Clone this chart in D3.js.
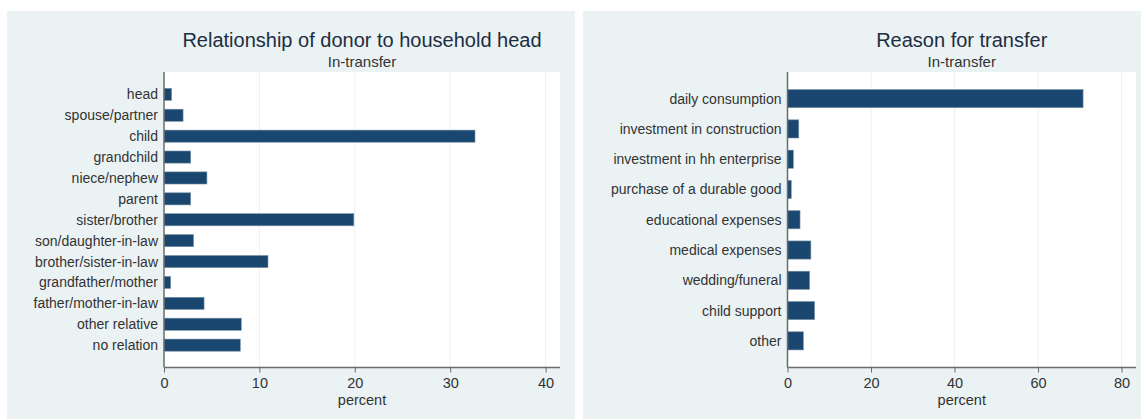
<!DOCTYPE html>
<html>
<head>
<meta charset="utf-8">
<script src="https://cdn.jsdelivr.net/npm/d3@7"></script>
<style>
  html, body { margin: 0; padding: 0; background: #ffffff; }
  svg { display: block; font-family: "Liberation Sans", Arial, sans-serif; }
</style>
</head>
<body>
<svg id="chart" width="1141" height="419"></svg>
<script>
// ---- Data ----
const relCategories = ["head", "spouse/partner", "child", "grandchild", "niece/nephew", "parent",
  "sister/brother", "son/daughter-in-law", "brother/sister-in-law", "grandfather/mother",
  "father/mother-in-law", "other relative", "no relation"];
const relValues = [0.8, 2.0, 32.6, 2.8, 4.5, 2.8, 19.9, 3.1, 10.9, 0.7, 4.2, 8.1, 8.0];
const relTicks = [0, 10, 20, 30, 40];

const reasonCategories = ["daily consumption", "investment in construction", "investment in hh enterprise",
  "purchase of a durable good", "educational expenses", "medical expenses", "wedding/funeral",
  "child support", "other"];
const reasonValues = [70.8, 2.7, 1.4, 0.9, 3.0, 5.6, 5.3, 6.5, 3.8];
const reasonTicks = [0, 20, 40, 60, 80];

const titles = ["Relationship of donor to household head", "Reason for transfer"];
const subtitle = "In-transfer";
const xTitle = "percent";

// ---- Styles ----
const bgColor = "#eaf2f3";
const barColor = "#1a476f";
const textColor = "#333333";
const titleColor = "#1e2d42";

const svg = d3.select("#chart");

function panel(cfg) {
  const g = svg.append("g");
  g.append("rect").attr("x", cfg.px0).attr("y", 11).attr("width", cfg.px1 - cfg.px0)
    .attr("height", 419 - 11).attr("fill", bgColor);

  const top = 72, bottom = 367.5;
  g.append("rect").attr("x", cfg.x0).attr("y", top).attr("width", cfg.x1 - cfg.x0)
    .attr("height", bottom - top).attr("fill", "#ffffff");

  const x = d3.scaleLinear().domain([0, cfg.max]).range([cfg.x0, cfg.x0 + cfg.pxPerUnit * cfg.max]);
  const y = d3.scalePoint().domain(cfg.cats).range([top, bottom]).padding(cfg.pad);
  const bh = y.step() * cfg.barFrac;

  // gridlines
  g.append("g").selectAll("line").data(cfg.ticks.slice(1)).join("line")
    .attr("x1", d => x(d)).attr("x2", d => x(d)).attr("y1", top).attr("y2", bottom)
    .attr("stroke", bgColor).attr("stroke-width", 1);

  // bars
  g.append("g").selectAll("rect").data(cfg.vals).join("rect")
    .attr("x", x(0)).attr("y", (d, i) => y(cfg.cats[i]) - bh / 2)
    .attr("width", d => x(d) - x(0)).attr("height", bh)
    .attr("fill", barColor).attr("stroke", "#7a93a8").attr("stroke-width", 0.6);

  // x axis
  const xa = g.append("g").attr("transform", `translate(0,${bottom})`)
    .call(d3.axisBottom(x).tickValues(cfg.ticks).tickSize(5).tickPadding(5).tickFormat(d3.format("d")));
  xa.select(".domain").remove();
  xa.append("line").attr("x1", cfg.x0).attr("x2", cfg.x1).attr("stroke", "#6b6b6b").attr("stroke-width", 1.5);
  xa.selectAll(".tick line").attr("stroke", "#6b6b6b");
  xa.selectAll(".tick text").attr("fill", textColor).style("font-size", "14.5px")
    .style("font-family", "Liberation Sans, Arial, sans-serif");

  // y axis
  const ya = g.append("g").attr("transform", `translate(${cfg.x0},0)`)
    .call(d3.axisLeft(y).tickSize(0).tickPadding(6));
  ya.select(".domain").remove();
  ya.append("line").attr("y1", top).attr("y2", bottom).attr("stroke", "#6b6b6b").attr("stroke-width", 1.5);
  ya.selectAll(".tick text").attr("fill", textColor).style("font-size", "14px")
    .style("font-family", "Liberation Sans, Arial, sans-serif");

  const cx = (cfg.x0 + cfg.x1) / 2;
  g.append("text").attr("x", cx).attr("y", 47).attr("text-anchor", "middle")
    .attr("fill", titleColor).style("font-size", "20px").text(cfg.title);
  g.append("text").attr("x", cx).attr("y", 67).attr("text-anchor", "middle")
    .attr("fill", textColor).style("font-size", "15px").text(subtitle);
  g.append("text").attr("x", cx).attr("y", 405).attr("text-anchor", "middle")
    .attr("fill", textColor).style("font-size", "14.5px").text(xTitle);
}

panel({ px0: 7, px1: 575, x0: 164, x1: 560, max: 40, pxPerUnit: 9.54,
  cats: relCategories, vals: relValues, ticks: relTicks, pad: 1.07, barFrac: 0.58, title: titles[0] });
panel({ px0: 583, px1: 1141, x0: 787.5, x1: 1136, max: 80, pxPerUnit: 4.175,
  cats: reasonCategories, vals: reasonValues, ticks: reasonTicks, pad: 0.88, barFrac: 0.6, title: titles[1] });
</script>
</body>
</html>
